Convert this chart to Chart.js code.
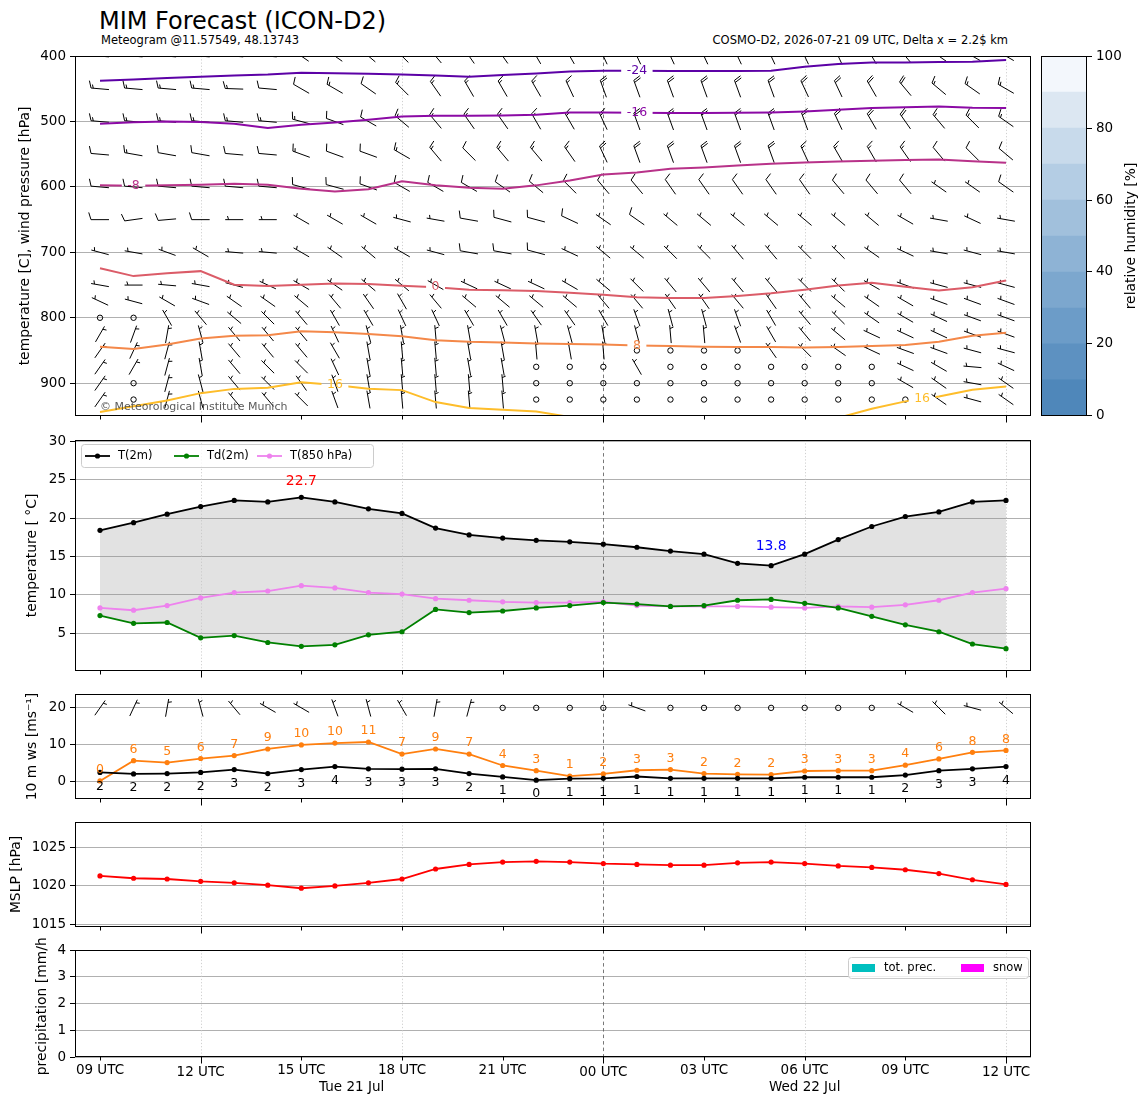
<!DOCTYPE html>
<html>
<head>
<meta charset="utf-8">
<script src="https://cdn.jsdelivr.net/npm/chart.js@4.4.1/dist/chart.umd.min.js"></script>
<style>
  body { margin: 0; background: #fff; }
  #page { position: relative; width: 1148px; height: 1105px; overflow: hidden; font-family: 'DejaVu Sans', sans-serif; }
  canvas { position: absolute; }
  .txt { position: absolute; white-space: nowrap; line-height: 1; color: #000; }
</style>
</head>
<body>
<div id="page">
  <div class="txt" style="left:99px;top:9px;font-size:24px">MIM Forecast (ICON-D2)</div>
  <div class="txt" style="left:101px;top:35px;font-size:11.5px">Meteogram @11.57549, 48.13743</div>
  <div class="txt" style="right:140px;top:35px;font-size:11.5px">COSMO-D2, 2026-07-21 09 UTC, Delta x = 2.2$ km</div>
  <canvas id="cUpper" width="1040" height="384" style="left:0;top:44px"></canvas>
  <canvas id="cBar" width="112" height="384" style="left:1036px;top:44px"></canvas>
  <canvas id="cTemp" width="1040" height="255" style="left:0;top:428px"></canvas>
  <canvas id="cWind" width="1040" height="129" style="left:0;top:682px"></canvas>
  <canvas id="cPres" width="1040" height="129" style="left:0;top:810px"></canvas>
  <canvas id="cPrec" width="1040" height="167" style="left:0;top:938px"></canvas>
</div>
<script>
// ---- time axis (hours after 2026-07-21 09 UTC) ----
const leadHours = [0,1,2,3,4,5,6,7,8,9,10,11,12,13,14,15,16,17,18,19,20,21,22,23,24,25,26,27];
const tickHours = [0,3,6,9,12,15,18,21,24,27];
const tickLabels = ['09 UTC','12 UTC','15 UTC','18 UTC','21 UTC','00 UTC','03 UTC','06 UTC','09 UTC','12 UTC'];
const majorTickHours = [3,15,27];
const gridHours = [3,9,21,27];
const midnightHour = 15;
const dayLabels = ['Tue 21 Jul','Wed 22 Jul'];
const dayLabelHours = [7.5,21];

// ---- upper air: isotherm heights [hPa] ----
const isoLevels = [-24,-16,-8,0,8,16];
const isoM24 = [437.5,435.7,433.4,431.5,429.6,428.1,425.4,426.1,427.1,428.1,429.6,431.5,428.9,426.6,423.6,422.3,422.3,422.8,422.8,422.8,422.3,416.3,412.2,409.6,409.6,409.1,408.7,406.1];
const isoM16 = [503.3,501.1,500.0,500.8,503.3,509.9,504.9,501.4,497.3,492.2,491.2,491.2,490.7,489.7,486.2,486.2,486.6,487.1,487.1,486.6,486.2,484.7,482.1,479.5,478.3,477.1,479.0,479.5];
const isoM8 = [597.6,598.0,597.6,596.5,595.3,596.8,602.6,607.1,603.6,591.5,597.6,601.1,602.6,597.6,590.0,580.9,577.8,572.2,570.2,567.2,564.6,562.6,561.1,560.0,558.8,558.1,560.6,563.1];
const iso0 = [724.2,736.3,732.1,728.7,749.5,751.5,749.5,747.5,748.4,751.0,753.3,757.1,757.9,759.1,761.7,764.7,768.5,769.8,769.8,766.7,762.5,757.1,750.6,746.5,752.6,758.2,753.3,743.0];
const iso8 = [844.2,847.9,840.7,831.6,827.5,826.6,820.5,822.0,824.8,828.1,834.2,836.6,837.7,839.2,840.0,840.7,842.2,843.3,844.2,844.8,844.8,845.3,844.5,843.3,841.8,836.6,827.5,823.0];
const iso16 = [944.1,935.4,926.3,915.2,908.7,907.1,898.5,902.7,908.4,910.6,928.9,938.0,940.6,943.3,951.5,960,960,960,960,960,960,960,953.0,939.1,927.8,920.5,910.2,905.0];
const isoColors = ['#5c01a6','#8b0aa5','#b83289','#db5c68','#f48849','#febd2a'];
const contourLabelLevels = [-24,-16,-8,0,8,16,16];
const contourLabelHours = [16,16,1,10,16,7,24.5];

// ---- upper air: wind barbs (direction deg, speed) ----
const windLevels = [400,450,500,550,600,650,700,750,775,800,825,850,875,900,925];
const dir400 = [275,275,275,275,275,275,305,305,310,315,320,325,325,330,330,335,335,335,335,335,335,335,335,330,320,305,300,300];
const spd400 = [20,20,20,20,20,20,20,20,20,20,20,20,20,20,20,20,20,20,20,20,20,20,20,20,20,20,20,20];
const dir450 = [275,275,275,275,272,275,300,300,305,315,325,330,330,330,335,340,340,340,340,340,340,335,335,330,320,310,305,300];
const spd450 = [15,15,15,15,15,10,10,15,10,15,15,15,15,15,15,20,20,20,20,20,20,20,20,20,20,15,15,15];
const dir500 = [275,275,275,275,275,275,285,290,300,310,320,325,325,330,330,335,340,340,340,340,340,340,335,330,325,320,315,305];
const spd500 = [15,15,15,15,15,15,15,10,10,15,15,15,15,15,15,15,20,20,20,20,20,20,20,20,20,15,15,15];
const dir550 = [275,280,280,280,275,275,290,290,290,300,320,315,320,320,325,335,340,340,340,340,340,335,330,330,325,320,315,310];
const spd550 = [10,15,10,10,10,10,15,10,10,15,15,10,15,15,15,20,20,20,20,20,20,15,15,15,15,10,10,10];
const dir600 = [275,275,275,275,275,275,285,285,290,300,300,300,305,310,315,320,320,325,325,325,325,325,320,320,320,305,305,305];
const spd600 = [10,10,10,10,10,10,10,10,10,10,10,10,10,10,10,10,10,10,10,10,10,10,10,10,10,5,5,10];
const dir650 = [270,262,265,270,270,270,300,300,300,285,280,280,285,285,295,305,305,310,310,310,310,310,310,310,300,280,295,280];
const spd650 = [10,10,10,10,5,5,5,5,5,5,5,10,10,10,10,5,10,5,5,5,5,5,5,5,5,5,5,5];
const dir700 = [285,280,290,300,275,275,300,305,310,300,285,280,280,285,295,310,310,315,315,320,320,315,315,305,295,280,285,280];
const spd700 = [5,5,5,5,5,5,5,5,5,5,5,10,10,10,5,5,5,5,5,5,5,5,5,5,5,5,5,5];
const dir750 = [280,270,275,280,285,295,300,305,310,310,300,295,295,295,300,310,315,320,320,320,320,315,315,300,290,285,285,285];
const spd750 = [5,5,5,5,5,5,5,5,5,5,5,5,5,5,5,5,5,5,5,5,5,5,5,5,5,5,5,5];
const dir775 = [295,285,300,290,305,305,310,320,325,330,320,310,310,310,310,320,320,325,325,320,325,320,310,305,300,290,290,290];
const spd775 = [5,5,5,5,5,5,5,5,5,5,5,5,5,5,5,5,5,5,5,5,5,5,5,5,5,5,5,5];
const dir800 = [0,0,330,320,310,315,320,330,330,335,335,330,330,325,325,330,340,345,345,340,330,320,315,305,300,295,290,290];
const spd800 = [0,0,5,5,5,5,5,5,5,5,5,5,5,5,5,5,5,5,5,5,5,5,5,5,5,5,5,5];
const dir825 = [30,20,10,345,320,320,320,335,345,350,355,350,345,350,345,350,345,355,355,340,330,320,310,295,295,295,290,290];
const spd825 = [5,5,5,5,5,5,5,5,5,5,5,5,5,5,5,5,5,5,5,5,5,5,5,5,5,5,5,5];
const dir850 = [35,25,15,350,320,320,320,330,350,355,355,350,350,355,350,355,0,0,0,0,325,315,305,295,290,290,285,285];
const spd850 = [5,5,5,5,5,5,5,5,5,5,5,5,5,5,5,5,0,0,0,0,5,5,5,5,5,5,5,5];
const dir875 = [35,30,15,350,320,315,315,335,350,355,355,350,350,0,0,0,330,0,0,0,0,0,0,0,295,300,275,295];
const spd875 = [5,5,5,5,5,5,5,5,5,5,5,5,5,0,0,0,5,0,0,0,0,0,0,0,5,5,5,5];
const dir900 = [35,0,15,345,320,315,325,340,350,355,355,355,355,0,0,0,0,0,0,0,0,0,0,0,300,305,280,305];
const spd900 = [5,0,5,5,5,5,5,5,5,5,5,5,5,0,0,0,0,0,0,0,0,0,0,0,5,5,5,5];
const dir925 = [35,0,15,345,320,320,315,340,350,355,355,355,355,0,0,0,0,0,0,0,0,0,0,0,0,305,285,305];
const spd925 = [5,0,5,5,5,5,5,5,5,5,5,5,5,0,0,0,0,0,0,0,0,0,0,0,0,5,5,5];
const windDirs = [dir400,dir450,dir500,dir550,dir600,dir650,dir700,dir750,dir775,dir800,dir825,dir850,dir875,dir900,dir925];
const windSpds = [spd400,spd450,spd500,spd550,spd600,spd650,spd700,spd750,spd775,spd800,spd825,spd850,spd875,spd900,spd925];

// ---- relative humidity colour bar ----
const rhLevels = [0,10,20,30,40,50,60,70,80,90,100];
const rhColors = ['#4f87ba','#5d91c1','#6c9cc8','#7ca7ce','#8eb3d5','#a1c0dc','#b4cde4','#c8daeb','#dce7f2','#f3f7fc'];

// ---- 2 m temperatures ----
const t2m = [18.4,19.4,20.5,21.5,22.3,22.1,22.7,22.1,21.2,20.6,18.7,17.8,17.4,17.1,16.9,16.6,16.2,15.7,15.3,14.1,13.8,15.3,17.2,18.9,20.2,20.8,22.1,22.3];
const td2m = [7.3,6.3,6.4,4.4,4.7,3.8,3.3,3.5,4.8,5.2,8.1,7.7,7.9,8.3,8.6,9.0,8.8,8.5,8.6,9.3,9.4,8.9,8.3,7.2,6.1,5.2,3.6,3.0];
const t850 = [8.3,8.0,8.6,9.6,10.3,10.5,11.2,10.9,10.3,10.1,9.5,9.3,9.1,9.0,9.0,9.1,8.6,8.5,8.5,8.5,8.4,8.3,8.5,8.4,8.7,9.3,10.3,10.8];

// ---- 10 m wind ----
const gust10m = [0.1,5.6,5.1,6.2,7.0,8.8,9.9,10.4,10.7,7.4,8.8,7.4,4.3,2.9,1.4,2.0,3.0,3.2,2.1,1.9,1.8,2.8,2.9,2.9,4.4,6.1,7.9,8.4];
const wind10m = [2.4,2.0,2.1,2.4,3.2,2.1,3.2,4.0,3.4,3.3,3.4,2.1,1.2,0.3,0.7,0.8,1.3,0.8,0.8,0.8,0.8,1.1,1.1,1.1,1.7,2.9,3.4,4.0];
const dir10m = [35,25,10,345,320,300,300,340,345,330,10,15,0,0,0,0,290,0,0,0,0,0,0,0,300,315,285,310];
const spd10m = [5,5,5,5,5,5,5,5,5,5,5,5,0,0,0,0,5,0,0,0,0,0,0,0,5,5,5,5];

// ---- MSLP and precipitation ----
const mslp = [1021.3,1021.0,1020.9,1020.6,1020.4,1020.1,1019.7,1020.0,1020.4,1020.9,1022.2,1022.8,1023.1,1023.2,1023.1,1022.9,1022.8,1022.7,1022.7,1023.0,1023.1,1022.9,1022.6,1022.4,1022.1,1021.6,1020.8,1020.2];
const totPrec = [0,0,0,0,0,0,0,0,0,0,0,0,0,0,0,0,0,0,0,0,0,0,0,0,0,0,0,0];
const snowPrec = [0,0,0,0,0,0,0,0,0,0,0,0,0,0,0,0,0,0,0,0,0,0,0,0,0,0,0,0];

const FONT = "'DejaVu Sans', sans-serif";
Chart.defaults.font.family = FONT;
Chart.defaults.font.size = 13.5;
Chart.defaults.color = '#000';
Chart.defaults.animation = false;
Chart.defaults.events = [];
Chart.defaults.plugins.legend.display = false;
Chart.defaults.plugins.tooltip.enabled = false;

function series(values) {
    return leadHours.map((h, i) => ({ x: h, y: values[i] }));
}

function valueAt(values, h) {
    const i = Math.min(Math.floor(h), values.length - 2);
    return values[i] + (values[i + 1] - values[i]) * (h - i);
}

function timeScale() {
    return { type: 'linear', min: -0.745, max: 27.745, offset: false, display: false };
}

function yAxis(min, max, ticks, title, titlePad, extra) {
    return Object.assign({
        type: 'linear', min: min, max: max,
        afterBuildTicks: s => { s.ticks = ticks.map(v => ({ value: v })); },
        afterFit: s => { s.width = 75; },
        grid: { color: '#b0b0b0', lineWidth: 1, tickColor: '#000', tickLength: 5, tickWidth: 1 },
        border: { display: false },
        ticks: { padding: 4, color: '#000', font: { size: 13.5 }, callback: v => String(v) },
        title: { display: true, text: title, color: '#000', font: { size: 13.9, lineHeight: 1 }, padding: { top: titlePad, bottom: 0 } }
    }, extra || {});
}

function vline(ctx, x, y0, y1) {
    const px = Math.round(x) + 0.5;
    ctx.beginPath(); ctx.moveTo(px, y0); ctx.lineTo(px, y1); ctx.stroke();
}

// wind barb, pivot in the middle, feathers at the upwind end
function drawBarb(ctx, cx, cy, dir, spd, L) {
    if (spd < 2.5) {
        ctx.beginPath(); ctx.arc(cx, cy, 0.15 * L, 0, 2 * Math.PI); ctx.stroke();
        return;
    }
    const r = dir * Math.PI / 180;
    const sx = Math.sin(r), sy = -Math.cos(r);
    const fx = Math.cos(r), fy = Math.sin(r);
    const x0 = cx - sx * L / 2, y0 = cy - sy * L / 2;
    let rest = Math.round(spd / 5) * 5;
    const flags = Math.floor(rest / 50); rest -= flags * 50;
    const full = Math.floor(rest / 10); rest -= full * 10;
    const half = rest >= 5;
    const H = 0.4 * L, W = 0.25 * L, sp = 0.125 * L;
    ctx.beginPath();
    ctx.moveTo(x0, y0); ctx.lineTo(x0 + sx * L, y0 + sy * L);
    let off = L;
    for (let i = 0; i < flags; i++) {
        const px = x0 + sx * off, py = y0 + sy * off;
        ctx.moveTo(px, py);
        ctx.lineTo(px + fx * H - sx * W / 2, py + fy * H - sy * W / 2);
        ctx.lineTo(px - sx * W, py - sy * W);
        off -= W + sp;
    }
    for (let i = 0; i < full; i++) {
        const px = x0 + sx * off, py = y0 + sy * off;
        ctx.moveTo(px, py);
        ctx.lineTo(px + fx * H + sx * W / 2, py + fy * H + sy * W / 2);
        off -= sp;
    }
    if (half) {
        if (off === L) off -= 1.5 * sp;
        const px = x0 + sx * off, py = y0 + sy * off;
        ctx.moveTo(px, py);
        ctx.lineTo(px + fx * H / 2 + sx * W / 4, py + fy * H / 2 + sy * W / 4);
    }
    ctx.stroke();
}

function timeAxis(withLabels) {
    return {
        id: 'timeAxis',
        beforeDatasetsDraw(chart) {
            const { ctx, chartArea: a, scales: { x } } = chart;
            ctx.save();
            ctx.lineWidth = 0.8;
            ctx.strokeStyle = '#c4c4c4';
            ctx.setLineDash([1.2, 2]);
            gridHours.forEach(h => vline(ctx, x.getPixelForValue(h), a.top, a.bottom));
            ctx.strokeStyle = '#555';
            ctx.setLineDash([3.5, 3]);
            vline(ctx, x.getPixelForValue(midnightHour), a.top, a.bottom);
            ctx.restore();
        },
        afterDraw(chart) {
            const { ctx, chartArea: a, scales: { x } } = chart;
            ctx.save();
            ctx.strokeStyle = '#000';
            ctx.lineWidth = 1;
            const L = Math.round(a.left) + 0.5, T = Math.round(a.top) + 0.5;
            const R = Math.round(a.right) - 0.5, B = Math.round(a.bottom) - 0.5;
            ctx.strokeRect(L, T, R - L, B - T);
            tickHours.forEach(h => {
                const len = majorTickHours.includes(h) ? 7 : 4;
                vline(ctx, x.getPixelForValue(h), B, B + len);
            });
            if (withLabels) {
                ctx.fillStyle = '#000';
                ctx.font = '13.5px ' + FONT;
                ctx.textAlign = 'center';
                ctx.textBaseline = 'middle';
                tickHours.forEach((h, i) => {
                    const dy = majorTickHours.includes(h) ? 15.5 : 13.7;
                    ctx.fillText(tickLabels[i], x.getPixelForValue(h), B + dy);
                });
                dayLabels.forEach((t, i) => ctx.fillText(t, x.getPixelForValue(dayLabelHours[i]), B + 30.7));
            }
            ctx.restore();
        }
    };
}

// ---------------- panel 1: isotherms and wind barbs ----------------
const isoLines = [isoM24, isoM16, isoM8, iso0, iso8, iso16];

function contourLabels(chart) {
    const { ctx, scales: { x, y } } = chart;
    ctx.font = '12.5px ' + FONT;
    return contourLabelLevels.map((lev, k) => {
        const li = isoLevels.indexOf(lev);
        const h = contourLabelHours[k];
        const text = String(lev);
        return {
            text: text,
            color: isoColors[li],
            x: x.getPixelForValue(h),
            y: y.getPixelForValue(valueAt(isoLines[li], h)),
            w: ctx.measureText(text).width + 11
        };
    });
}

const upperPlugin = {
    id: 'upper',
    beforeDatasetsDraw(chart) {
        const { ctx, chartArea: a, scales: { x, y } } = chart;
        ctx.save();
        ctx.beginPath(); ctx.rect(a.left, a.top, a.width, a.height); ctx.clip();
        ctx.strokeStyle = '#000';
        ctx.lineWidth = 1;
        windLevels.forEach((p, k) => {
            leadHours.forEach((h, i) => {
                drawBarb(ctx, x.getPixelForValue(h), y.getPixelForValue(p), windDirs[k][i], windSpds[k][i], 18);
            });
        });
        ctx.restore();
        // leave gaps in the isotherms where the inline labels go
        const labels = contourLabels(chart);
        ctx.save();
        ctx.beginPath();
        ctx.rect(0, 0, chart.width, chart.height);
        labels.forEach(l => ctx.rect(l.x - l.w / 2, l.y - 7, l.w, 14));
        ctx.clip('evenodd');
    },
    afterDatasetsDraw(chart) {
        const { ctx, chartArea: a } = chart;
        ctx.restore();
        const labels = contourLabels(chart);
        ctx.save();
        ctx.font = '12.5px ' + FONT;
        ctx.textAlign = 'center';
        ctx.textBaseline = 'middle';
        labels.forEach(l => { ctx.fillStyle = l.color; ctx.fillText(l.text, l.x, l.y); });
        ctx.font = '11px ' + FONT;
        ctx.textAlign = 'left';
        ctx.fillStyle = 'rgba(60,60,60,0.85)';
        ctx.fillText('\u00a9 Meteorological Institute Munich', 100, a.bottom - 8.5);
        ctx.restore();
    }
};

new Chart(document.getElementById('cUpper'), {
    type: 'line',
    data: {
        datasets: isoLines.map((vals, k) => ({
            label: String(isoLevels[k]),
            data: series(vals),
            borderColor: isoColors[k],
            borderWidth: 2,
            pointRadius: 0,
            tension: 0,
            clip: 0
        }))
    },
    options: {
        responsive: false,
        layout: { padding: { top: 12, bottom: 10, left: 0, right: 9 } },
        scales: {
            x: timeScale(),
            y: yAxis(400, 950, [400,500,600,700,800,900], 'temperature [C], wind pressure [hPa]', 18, { reverse: true })
        }
    },
    plugins: [timeAxis(false), upperPlugin]
});

// ---------------- colour bar ----------------
new Chart(document.getElementById('cBar'), {
    type: 'bar',
    data: {
        labels: ['rh'],
        datasets: rhColors.map((c, i) => ({
            data: [rhLevels[i + 1] - rhLevels[i]],
            backgroundColor: c,
            borderWidth: 0,
            barPercentage: 1,
            categoryPercentage: 1
        }))
    },
    options: {
        responsive: false,
        layout: { padding: { top: 12, bottom: 10, left: 5, right: 0 } },
        scales: {
            x: { stacked: true, display: false },
            y: {
                stacked: true, position: 'right', min: 0, max: 100,
                afterBuildTicks: s => { s.ticks = [0,20,40,60,80,100].map(v => ({ value: v })); },
                afterFit: s => { s.width = 61; },
                grid: { drawOnChartArea: false, tickColor: '#000', tickLength: 5, tickWidth: 1 },
                border: { display: false },
                ticks: { padding: 4, color: '#000', font: { size: 13.5 }, callback: v => String(v) }
            }
        }
    },
    plugins: [{
        id: 'cbarFrame',
        afterDraw(chart) {
            const { ctx, chartArea: a } = chart;
            ctx.save();
            ctx.strokeStyle = '#000';
            ctx.lineWidth = 1;
            const L = Math.round(a.left) + 0.5, T = Math.round(a.top) + 0.5;
            const R = Math.round(a.right) - 0.5, B = Math.round(a.bottom) - 0.5;
            ctx.strokeRect(L, T, R - L, B - T);
            ctx.translate(95, (a.top + a.bottom) / 2);
            ctx.rotate(-Math.PI / 2);
            ctx.font = '13.9px ' + FONT;
            ctx.fillStyle = '#000';
            ctx.textAlign = 'center';
            ctx.textBaseline = 'middle';
            ctx.fillText('relative humidity [%]', 0, 0);
            ctx.restore();
        }
    }]
});

// ---------------- panel 2: temperatures ----------------
const tempPlugin = {
    id: 'tempNotes',
    afterDatasetsDraw(chart) {
        const { ctx, scales: { x, y } } = chart;
        ctx.save();
        ctx.font = '13.9px ' + FONT;
        ctx.textAlign = 'center';
        ctx.textBaseline = 'middle';
        const iMax = t2m.indexOf(Math.max(...t2m));
        const iMin = t2m.indexOf(Math.min(...t2m));
        ctx.fillStyle = '#ff0000';
        ctx.fillText(t2m[iMax].toFixed(1), x.getPixelForValue(leadHours[iMax]), y.getPixelForValue(t2m[iMax]) - 16);
        ctx.fillStyle = '#0000ff';
        ctx.fillText(t2m[iMin].toFixed(1), x.getPixelForValue(leadHours[iMin]), y.getPixelForValue(t2m[iMin]) - 19.5);

        // legend
        const ds = chart.data.datasets.filter(d => d.label);
        const top = 16, h = 23;
        ctx.fillStyle = 'rgba(255,255,255,0.8)';
        ctx.strokeStyle = '#cccccc';
        ctx.lineWidth = 1;
        ctx.beginPath();
        ctx.roundRect(81.5, top + 0.5, 292, h, 3);
        ctx.fill(); ctx.stroke();
        const starts = [85, 174, 257];
        ctx.font = '11.5px ' + FONT;
        ctx.textAlign = 'left';
        ds.forEach((d, i) => {
            const sx = starts[i], cy = top + h / 2 + 0.5;
            ctx.strokeStyle = d.borderColor;
            ctx.lineWidth = 1.8;
            ctx.beginPath(); ctx.moveTo(sx, cy); ctx.lineTo(sx + 25, cy); ctx.stroke();
            ctx.fillStyle = d.borderColor;
            ctx.beginPath(); ctx.arc(sx + 12.5, cy, 2.6, 0, 2 * Math.PI); ctx.fill();
            ctx.fillStyle = '#000';
            ctx.fillText(d.label, sx + 33, cy);
        });
        ctx.restore();
    }
};

function pointLine(label, values, color) {
    return {
        label: label, data: series(values), borderColor: color, backgroundColor: color,
        borderWidth: 1.8, pointRadius: 2.6, pointBorderWidth: 0, pointBackgroundColor: color, tension: 0
    };
}

new Chart(document.getElementById('cTemp'), {
    type: 'line',
    data: {
        datasets: [
            Object.assign(pointLine('T(2m)', t2m, '#000000'), { fill: 1, backgroundColor: 'rgba(140,140,140,0.25)' }),
            pointLine('Td(2m)', td2m, '#008000'),
            pointLine('T(850 hPa)', t850, '#ee82ee')
        ]
    },
    options: {
        responsive: false,
        layout: { padding: { top: 12, bottom: 10, left: 0, right: 9 } },
        plugins: { filler: { drawTime: 'beforeDatasetsDraw' } },
        scales: {
            x: timeScale(),
            y: yAxis(0.1, 30.15, [5,10,15,20,25,30], 'temperature [ \u00b0C]', 25)
        }
    },
    plugins: [timeAxis(false), tempPlugin]
});

// ---------------- panel 3: 10 m wind ----------------
const windPlugin = {
    id: 'windNotes',
    afterDatasetsDraw(chart) {
        const { ctx, scales: { x, y } } = chart;
        ctx.save();
        ctx.strokeStyle = '#000';
        ctx.lineWidth = 1;
        leadHours.forEach((h, i) => drawBarb(ctx, x.getPixelForValue(h), y.getPixelForValue(20), dir10m[i], spd10m[i], 18));
        ctx.font = '12.5px ' + FONT;
        ctx.textAlign = 'center';
        ctx.textBaseline = 'middle';
        leadHours.forEach((h, i) => {
            ctx.fillStyle = '#ff7f0e';
            ctx.fillText(String(Math.round(gust10m[i])), x.getPixelForValue(h), y.getPixelForValue(gust10m[i]) - 11);
            ctx.fillStyle = '#000';
            ctx.fillText(String(Math.round(wind10m[i])), x.getPixelForValue(h), y.getPixelForValue(wind10m[i]) + 14);
        });
        ctx.restore();
    }
};

new Chart(document.getElementById('cWind'), {
    type: 'line',
    data: {
        datasets: [
            pointLine('ws', wind10m, '#000000'),
            pointLine('gust', gust10m, '#ff7f0e')
        ]
    },
    options: {
        responsive: false,
        layout: { padding: { top: 12, bottom: 10, left: 0, right: 9 } },
        scales: {
            x: timeScale(),
            y: yAxis(-4.8, 23.75, [0,10,20], '10 m ws [ms\u207b\u00b9]', 25)
        }
    },
    plugins: [timeAxis(false), windPlugin]
});

// ---------------- panel 4: MSLP ----------------
new Chart(document.getElementById('cPres'), {
    type: 'line',
    data: { datasets: [pointLine('MSLP', mslp, '#ff0000')] },
    options: {
        responsive: false,
        layout: { padding: { top: 12, bottom: 10, left: 0, right: 9 } },
        scales: {
            x: timeScale(),
            y: yAxis(1014.67, 1028.3, [1015,1020,1025], 'MSLP [hPa]', 9)
        }
    },
    plugins: [timeAxis(false)]
});

// ---------------- panel 5: precipitation ----------------
const precPlugin = {
    id: 'precLegend',
    afterDatasetsDraw(chart) {
        const { ctx } = chart;
        const ds = chart.data.datasets;
        ctx.save();
        const top = 19, h = 21;
        ctx.fillStyle = 'rgba(255,255,255,0.8)';
        ctx.strokeStyle = '#cccccc';
        ctx.lineWidth = 1;
        ctx.beginPath();
        ctx.roundRect(848.5, top + 0.5, 180, h, 3);
        ctx.fill(); ctx.stroke();
        const starts = [852, 961];
        ctx.font = '11.5px ' + FONT;
        ctx.textAlign = 'left';
        ctx.textBaseline = 'middle';
        ds.forEach((d, i) => {
            const cy = top + h / 2 + 0.5;
            ctx.fillStyle = d.backgroundColor;
            ctx.fillRect(starts[i], cy - 4, 23, 8);
            ctx.fillStyle = '#000';
            ctx.fillText(d.label, starts[i] + 32, cy);
        });
        ctx.restore();
    }
};

new Chart(document.getElementById('cPrec'), {
    type: 'bar',
    data: {
        datasets: [
            { label: 'tot. prec.', data: series(totPrec), backgroundColor: '#00bfbf', borderWidth: 0 },
            { label: 'snow', data: series(snowPrec), backgroundColor: '#ff00ff', borderWidth: 0 }
        ]
    },
    options: {
        responsive: false,
        layout: { padding: { top: 12, bottom: 48, left: 0, right: 9 } },
        scales: {
            x: timeScale(),
            y: yAxis(0, 4, [0,1,2,3,4], 'precipitation [mm/h]', 35)
        }
    },
    plugins: [timeAxis(true), precPlugin]
});
</script>
</body>
</html>
